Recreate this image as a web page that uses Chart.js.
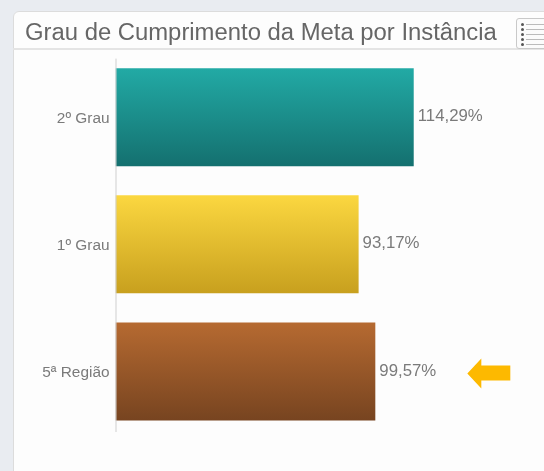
<!DOCTYPE html>
<html lang="pt">
<head>
<meta charset="utf-8">
<style>
html,body{margin:0;padding:0;background:#e9ecf1;width:544px;height:471px;overflow:hidden}
#wrap{position:absolute;left:0;top:0;width:544px;height:471px;filter:blur(.6px)}
#panel{position:absolute;left:13px;top:11px;width:540px;height:470px;background:#fdfdfd;border:1px solid #dcdcdc;border-radius:6px;box-sizing:border-box}
#rule{position:absolute;left:13px;top:48px;width:531px;height:2px;background:#e4e4e4}
#menu{position:absolute;left:516px;top:18px;width:40px;height:31px;border:1px solid #c9c9c9;border-radius:3px;box-sizing:border-box;background:#fbfbfb}
#menu i{position:absolute;left:4px;width:3px;height:3px;background:#555;border-radius:50%}
#menu b{position:absolute;left:9px;width:30px;height:1px;background:#bbb}
canvas{position:absolute;left:0;top:0}
</style>
</head>
<body>
<div id="wrap">
<div id="panel"></div>
<div id="rule"></div>
<div id="menu">
<i style="top:4px"></i><i style="top:9px"></i><i style="top:14px"></i><i style="top:19px"></i><i style="top:24px"></i>
<b style="top:5px"></b><b style="top:10px"></b><b style="top:15px"></b><b style="top:20px"></b><b style="top:25px"></b>
</div>
<canvas id="c" width="544" height="471"></canvas>
</div>
<script src="https://cdn.jsdelivr.net/npm/chart.js@4"></script>
<script>
const categories = ["2º Grau", "1º Grau", "5ª Região"];
const values = [114.29, 93.17, 99.57];
const valueLabels = ["114,29%", "93,17%", "99,57%"];
const gradientTop = ["#22aaa5", "#fbd740", "#b66a31"];
const gradientBottom = ["#14706f", "#c8a01e", "#774420"];
const highlightedIndex = 2;
const arrowColor = "#fdb900";
const font = "'Liberation Sans', Arial, sans-serif";

function barGradient(ctx) {
  const chart = ctx.chart, y = chart.scales.y;
  if (!y || ctx.dataIndex === undefined) return gradientTop[0];
  const c = y.getPixelForValue(ctx.dataIndex), h = 49;
  if (!Number.isFinite(c)) return gradientTop[ctx.dataIndex];
  const g = chart.ctx.createLinearGradient(0, c - h, 0, c + h);
  g.addColorStop(0, gradientTop[ctx.dataIndex]);
  g.addColorStop(1, gradientBottom[ctx.dataIndex]);
  return g;
}

const extras = {
  id: "extras",
  afterDatasetsDraw(chart) {
    const c = chart.ctx, x = chart.scales.x, y = chart.scales.y;
    c.save();
    c.strokeStyle = "#cfcfcf";
    c.lineWidth = 1;
    c.beginPath();
    c.moveTo(x.left + .5, y.top + 5);
    c.lineTo(x.left + .5, y.bottom - 3);
    c.stroke();
    c.font = "16.8px " + font;
    c.fillStyle = "#7a7a7a";
    c.textBaseline = "middle";
    values.forEach((v, i) => c.fillText(valueLabels[i], x.getPixelForValue(v) + 4, y.getPixelForValue(i) - 0.5));
    const tip = x.getPixelForValue(values[highlightedIndex]) + 92, m = y.getPixelForValue(highlightedIndex) + 2;
    c.fillStyle = arrowColor;
    c.beginPath();
    c.moveTo(tip, m);
    c.lineTo(tip + 14, m - 15);
    c.lineTo(tip + 14, m - 8);
    c.lineTo(tip + 43, m - 8);
    c.lineTo(tip + 43, m + 7);
    c.lineTo(tip + 14, m + 7);
    c.lineTo(tip + 14, m + 15);
    c.closePath();
    c.fill();
    c.restore();
  }
};

new Chart(document.getElementById("c"), {
  type: "bar",
  data: {
    labels: categories,
    datasets: [{ data: values, backgroundColor: barGradient, borderWidth: 0, categoryPercentage: 1, barPercentage: .77 }]
  },
  options: {
    indexAxis: "y",
    responsive: false,
    animation: false,
    layout: { padding: { left: 25, right: 11, top: 19, bottom: 36 } },
    plugins: {
      legend: { display: false },
      tooltip: { enabled: false },
      title: {
        display: true,
        text: "Grau de Cumprimento da Meta por Instância",
        align: "start",
        color: "#666666",
        font: { family: font, size: 23.85, weight: "normal" },
        padding: { top: 0, bottom: 6 }
      }
    },
    scales: {
      x: { display: false, min: 0, max: 160 },
      y: {
        afterFit(s) { s.width = 90.5; },
        grid: { display: false, drawTicks: false },
        border: { display: false },
        ticks: { color: "#7a7a7a", padding: 6, labelOffset: 1.5, font: { family: font, size: 15.4 } }
      }
    }
  },
  plugins: [extras]
});
</script>
</body>
</html>
